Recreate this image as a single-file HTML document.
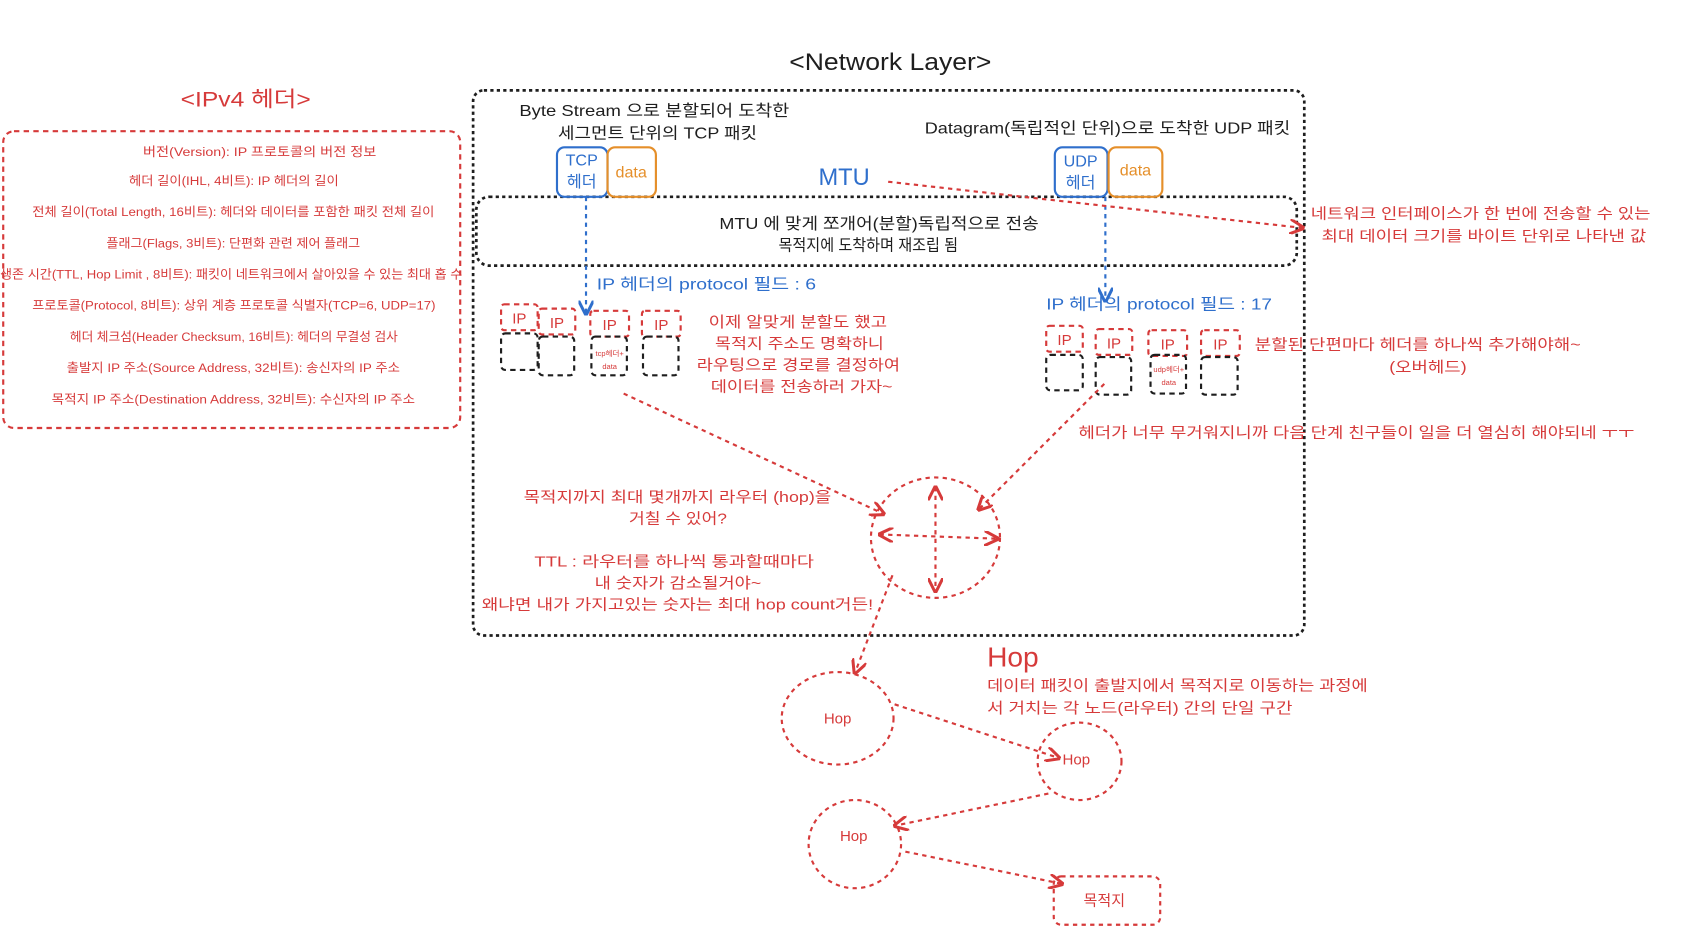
<!DOCTYPE html>
<html><head><meta charset="utf-8"><style>
html,body{margin:0;padding:0;background:#fff;}
svg{display:block;}
text{font-family:"Liberation Sans","Noto Sans CJK KR",sans-serif;}
</style></head><body>
<svg width="1686" height="942" viewBox="0 0 1568 876" xmlns="http://www.w3.org/2000/svg">
<defs>
<marker id="ar" viewBox="0 0 10 10" refX="9" refY="5" markerWidth="7" markerHeight="7" orient="auto-start-reverse"><path d="M0,0 L10,5 L0,10" fill="none" stroke="#d63a3a" stroke-width="2"/></marker>
<marker id="ab" viewBox="0 0 10 10" refX="9" refY="5" markerWidth="7" markerHeight="7" orient="auto"><path d="M0,0 L10,5 L0,10" fill="none" stroke="#2f6fcc" stroke-width="2"/></marker>
</defs>
<g fill="none" stroke-dasharray="5 4" stroke-width="2">
<rect x="3" y="122" width="425" height="276" rx="10" stroke="#d63a3a"/>
<rect x="440" y="84" width="773" height="507" rx="10" stroke="#1e1e1e" stroke-dasharray="3 3" stroke-width="2.5"/>
<rect x="443" y="183" width="763" height="64" rx="12" stroke="#1e1e1e" stroke-dasharray="3 3" stroke-width="2.5"/>
</g>
<g fill="none" stroke-width="2">
<rect x="518" y="137" width="47" height="46" rx="7" stroke="#2f6fcc"/>
<rect x="565" y="137" width="45" height="46" rx="7" stroke="#e58f2a"/>
<rect x="981" y="137" width="49" height="46" rx="7" stroke="#2f6fcc"/>
<rect x="1031" y="137" width="50" height="46" rx="7" stroke="#e58f2a"/>
</g>
<g fill="none" stroke-dasharray="5 4" stroke-width="2">
<g stroke="#d63a3a">
<rect x="466" y="283" width="34" height="24" rx="3"/><rect x="501" y="287" width="34" height="24" rx="3"/>
<rect x="549" y="289" width="36" height="24" rx="3"/><rect x="597" y="289" width="36" height="24" rx="3"/>
<rect x="973" y="303" width="34" height="24" rx="3"/><rect x="1019" y="306" width="34" height="24" rx="3"/>
<rect x="1068" y="307" width="36" height="24" rx="3"/><rect x="1117" y="307" width="36" height="24" rx="3"/>
</g>
<g stroke="#1e1e1e">
<rect x="466" y="310" width="34" height="34" rx="4"/><rect x="501" y="313" width="33" height="36" rx="4"/>
<rect x="550" y="313" width="33" height="36" rx="4"/><rect x="598" y="313" width="33" height="36" rx="4"/>
<rect x="973" y="330" width="34" height="33" rx="4"/><rect x="1019" y="332" width="33" height="35" rx="4"/>
<rect x="1070" y="330" width="33" height="36" rx="4"/><rect x="1117" y="332" width="34" height="35" rx="4"/>
</g>
</g>
<g fill="none" stroke-dasharray="4 4" stroke-width="2">
<line x1="545" y1="183" x2="545" y2="292" stroke="#2f6fcc" marker-end="url(#ab)"/>
<line x1="1028" y1="183" x2="1028" y2="280" stroke="#2f6fcc" marker-end="url(#ab)"/>
<g stroke="#d63a3a">
<line x1="826" y1="169" x2="1212" y2="212" marker-end="url(#ar)"/>
<line x1="580" y1="366" x2="822" y2="478" marker-end="url(#ar)"/>
<line x1="1027" y1="357" x2="910" y2="474" marker-end="url(#ar)"/>
<ellipse cx="870" cy="500" rx="60" ry="56"/>
<line x1="870" y1="453" x2="870" y2="550" marker-end="url(#ar)" marker-start="url(#ar)"/>
<line x1="818" y1="497" x2="928" y2="501" marker-end="url(#ar)" marker-start="url(#ar)"/>
<line x1="830" y1="535" x2="795" y2="626" marker-end="url(#ar)"/>
<ellipse cx="779" cy="668" rx="52" ry="43"/>
<line x1="832" y1="655" x2="985" y2="705" marker-end="url(#ar)"/>
<ellipse cx="1004" cy="708" rx="39" ry="36"/>
<line x1="975" y1="738" x2="832" y2="768" marker-end="url(#ar)"/>
<ellipse cx="795" cy="785" rx="43" ry="41"/>
<line x1="842" y1="792" x2="988" y2="822" marker-end="url(#ar)"/>
<rect x="980" y="815" width="99" height="45" rx="7"/>
</g>
</g>
<g fill="#d63a3a" font-size="11.5" lengthAdjust="spacingAndGlyphs">
<text x="168" y="99" font-size="20" textLength="121" lengthAdjust="spacingAndGlyphs">&lt;IPv4 헤더&gt;</text>
<text x="133" y="145" textLength="217" lengthAdjust="spacingAndGlyphs">버전(Version): IP 프로토콜의 버전 정보</text>
<text x="120" y="172" textLength="195" lengthAdjust="spacingAndGlyphs">헤더 길이(IHL, 4비트): IP 헤더의 길이</text>
<text x="30" y="201" textLength="374" lengthAdjust="spacingAndGlyphs">전체 길이(Total Length, 16비트): 헤더와 데이터를 포함한 패킷 전체 길이</text>
<text x="99" y="230" textLength="236" lengthAdjust="spacingAndGlyphs">플래그(Flags, 3비트): 단편화 관련 제어 플래그</text>
<text x="0" y="259" textLength="430" lengthAdjust="spacingAndGlyphs">생존 시간(TTL, Hop Limit , 8비트): 패킷이 네트워크에서 살아있을 수 있는 최대 홉 수</text>
<text x="30" y="288" textLength="375" lengthAdjust="spacingAndGlyphs">프로토콜(Protocol, 8비트): 상위 계층 프로토콜 식별자(TCP=6, UDP=17)</text>
<text x="65" y="317" textLength="305" lengthAdjust="spacingAndGlyphs">헤더 체크섬(Header Checksum, 16비트): 헤더의 무결성 검사</text>
<text x="62" y="346" textLength="310" lengthAdjust="spacingAndGlyphs">출발지 IP 주소(Source Address, 32비트): 송신자의 IP 주소</text>
<text x="48" y="375" textLength="338" lengthAdjust="spacingAndGlyphs">목적지 IP 주소(Destination Address, 32비트): 수신자의 IP 주소</text>
</g>
<g fill="#1e1e1e" font-size="15">
<text x="734" y="65" font-size="22" textLength="188" lengthAdjust="spacingAndGlyphs">&lt;Network Layer&gt;</text>
<text x="483" y="108" textLength="251" lengthAdjust="spacingAndGlyphs">Byte Stream 으로 분할되어 도착한</text>
<text x="519" y="129" textLength="185" lengthAdjust="spacingAndGlyphs">세그먼트 단위의 TCP 패킷</text>
<text x="860" y="124" textLength="340" lengthAdjust="spacingAndGlyphs">Datagram(독립적인 단위)으로 도착한 UDP 패킷</text>
<text x="669" y="213" textLength="297" lengthAdjust="spacingAndGlyphs">MTU 에 맞게 쪼개어(분할)독립적으로 전송</text>
<text x="724" y="233" textLength="167" lengthAdjust="spacingAndGlyphs">목적지에 도착하며 재조립 됨</text>
</g>
<g fill="#2f6fcc" font-size="15">
<text x="541" y="154" text-anchor="middle">TCP</text><text x="541" y="174" text-anchor="middle">헤더</text>
<text x="1005" y="155" text-anchor="middle">UDP</text><text x="1005" y="175" text-anchor="middle">헤더</text>
<text x="785" y="172" font-size="22" text-anchor="middle">MTU</text>
<text x="555" y="269" textLength="204" lengthAdjust="spacingAndGlyphs">IP 헤더의 protocol 필드 : 6</text>
<text x="973" y="288" textLength="210" lengthAdjust="spacingAndGlyphs">IP 헤더의 protocol 필드 : 17</text>
</g>
<g fill="#e58f2a" text-anchor="middle" font-size="15">
<text x="587" y="165">data</text><text x="1056" y="163">data</text>
</g>
<g fill="#d63a3a" text-anchor="middle" font-size="14">
<text x="483" y="301">IP</text><text x="518" y="305">IP</text><text x="567" y="307">IP</text><text x="615" y="307">IP</text>
<text x="990" y="321">IP</text><text x="1036" y="324">IP</text><text x="1086" y="325">IP</text><text x="1135" y="325">IP</text>
<text x="567" y="331" font-size="7">tcp헤더+</text><text x="567" y="343" font-size="7">data</text>
<text x="1087" y="346" font-size="7">udp헤더+</text><text x="1087" y="358" font-size="7">data</text>
<text x="779" y="673">Hop</text><text x="1001" y="711">Hop</text><text x="794" y="782">Hop</text>
<text x="1027" y="842">목적지</text>
</g>
<g fill="#d63a3a" font-size="14">
<text x="659" y="304" textLength="166" lengthAdjust="spacingAndGlyphs">이제 알맞게 분할도 했고</text>
<text x="665" y="324" textLength="157" lengthAdjust="spacingAndGlyphs">목적지 주소도 명확하니</text>
<text x="648" y="344" textLength="189" lengthAdjust="spacingAndGlyphs">라우팅으로 경로를 결정하여</text>
<text x="661" y="364" textLength="169" lengthAdjust="spacingAndGlyphs">데이터를 전송하러 가자~</text>
<text x="1167" y="325" textLength="303" lengthAdjust="spacingAndGlyphs">분할된 단편마다 헤더를 하나씩 추가해야해~</text>
<text x="1292" y="346" textLength="72" lengthAdjust="spacingAndGlyphs">(오버헤드)</text>
<text x="1003" y="407" textLength="517" lengthAdjust="spacingAndGlyphs">헤더가 너무 무거워지니까 다음 단계 친구들이 일을 더 열심히 해야되네 ㅜㅜ</text>
<text x="1219" y="203" textLength="316" lengthAdjust="spacingAndGlyphs">네트워크 인터페이스가 한 번에 전송할 수 있는</text>
<text x="1229" y="224" textLength="302" lengthAdjust="spacingAndGlyphs">최대 데이터 크기를 바이트 단위로 나타낸 값</text>
<text x="487" y="467" textLength="286" lengthAdjust="spacingAndGlyphs">목적지까지 최대 몇개까지 라우터 (hop)을</text>
<text x="585" y="487" textLength="91" lengthAdjust="spacingAndGlyphs">거칠 수 있어?</text>
<text x="497" y="527" textLength="260" lengthAdjust="spacingAndGlyphs">TTL : 라우터를 하나씩 통과할때마다</text>
<text x="553" y="547" textLength="155" lengthAdjust="spacingAndGlyphs">내 숫자가 감소될거야~</text>
<text x="448" y="567" textLength="364" lengthAdjust="spacingAndGlyphs">왜냐면 내가 가지고있는 숫자는 최대 hop count거든!</text>
<text x="918" y="620" font-size="26" textLength="48" lengthAdjust="spacingAndGlyphs">Hop</text>
<text x="918" y="642" textLength="354" lengthAdjust="spacingAndGlyphs">데이터 패킷이 출발지에서 목적지로 이동하는 과정에</text>
<text x="918" y="663" textLength="284" lengthAdjust="spacingAndGlyphs">서 거치는 각 노드(라우터) 간의 단일 구간</text>
</g>
</svg>
</body></html>
